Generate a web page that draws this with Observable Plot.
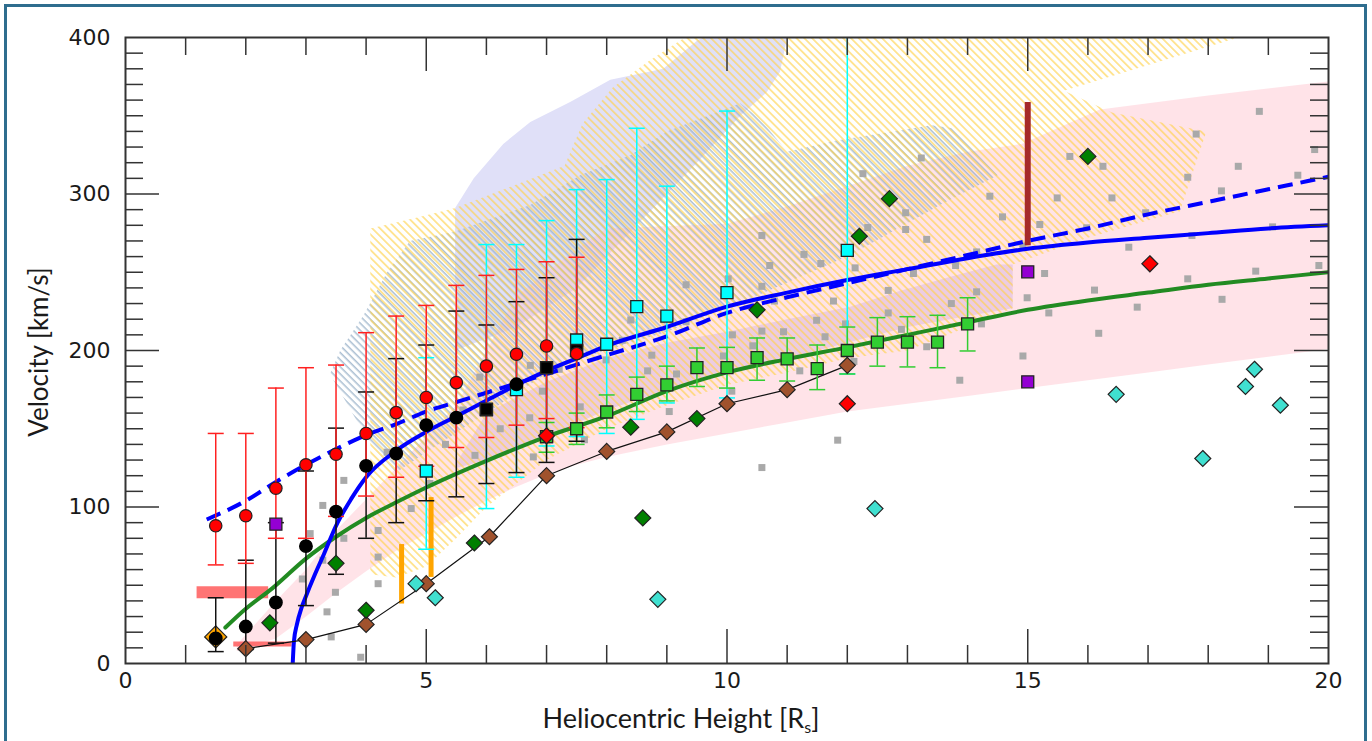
<!DOCTYPE html>
<html><head><meta charset="utf-8">
<script src="https://cdn.jsdelivr.net/npm/d3@7"></script>
<script src="https://cdn.jsdelivr.net/npm/@observablehq/plot@0.6"></script>
<style>
html,body{margin:0;padding:0;background:#fff;width:1372px;height:741px;overflow:hidden;}
#wrap{position:relative;width:1372px;height:741px;}
#border{position:absolute;left:4px;top:4px;width:1357px;height:800px;border:3px solid #2e6d8e;}
#chart{position:absolute;left:0;top:0;}
.title{position:absolute;font-family:Lato,"Open Sans",sans-serif;color:#1a1a1a;text-align:center;white-space:nowrap;}
#xtitle{left:481px;width:400px;top:703px;line-height:30px;font-size:27px;}
#ytitle{left:-112px;top:337px;width:300px;line-height:30px;font-size:26px;transform:rotate(-90deg);}
sub{font-size:16px;vertical-align:-5px;line-height:0;}
</style></head><body>
<svg width="0" height="0" style="position:absolute">
<defs>
<pattern id="hatchGold" patternUnits="userSpaceOnUse" width="5.5" height="5.5" patternTransform="rotate(-45)"><line x1="2.75" y1="0" x2="2.75" y2="5.5" stroke="#ffd24a" stroke-opacity="0.8" stroke-width="1.4"/></pattern>
<pattern id="hatchBlue" patternUnits="userSpaceOnUse" width="5" height="5" patternTransform="rotate(-45)"><line x1="1.2" y1="0" x2="1.2" y2="5" stroke="#93adc6" stroke-opacity="0.85" stroke-width="1.4"/></pattern>
</defs></svg>
<div id="wrap"><div id="border"></div><div id="chart"></div>
<div id="xtitle" class="title">Heliocentric Height [R<sub>s</sub>]</div>
<div id="ytitle" class="title">Velocity [km/s]</div></div>
<script>
// ---------------- data ----------------
const xTickLabels = [0, 5, 10, 15, 20];
const yTickLabels = [0, 100, 200, 300, 400];

const redX  = [1.5, 2, 2.5, 3, 3.5, 4, 4.5, 5, 5.5, 6, 6.5, 7, 7.5];
const redV  = [88, 94.4, 112, 127, 133.7, 147, 160.3, 170, 179.5, 190, 197.6, 202.9, 198];
const redLo = [63, 64, 80, 80, 94, 107, 119, 126, 138, 144.4, 152.3, 156.5, 150.7];
const redHi = [147, 147, 176, 189, 190.7, 211.4, 222, 228.8, 241.6, 248, 251.8, 256.7, 259.6];

const blackX  = [1.5, 2, 2.5, 3, 3.5, 4, 4.5, 5, 5.5, 6, 6.5, 7, 7.5];
const blackV  = [16, 23.6, 39, 75, 97, 126.3, 134.2, 152.3, 157.1, 162.5, 178.4, 189, 200];
const blackLo = [7.6, 9, 13, 37, 57, 80, 90, 104, 106.5, 115, 122, 128.5, 142];
const blackHi = [42, 66, 90, 123, 150.4, 173.5, 194.8, 203.5, 225.2, 216.3, 231.2, 246.5, 271];
const blackShape = ["circle","circle","circle","circle","circle","circle","circle","circle","circle","square","circle","square","square"];

const cyanX  = [5, 6, 6.5, 7, 7.5, 8, 8.5, 9, 10, 12];
const cyanV  = [123, 162, 175, 145, 206.7, 204, 228, 222, 237, 264];
const cyanLo = [73, 99, 119, 139, 145, 147, 156, 166.5, 169.7, 185];
const cyanHi = [195.4, 267.7, 267.7, 283, 302.8, 309.2, 342, 305, 353, 400];

const limeX  = [7, 7.5, 8, 8.5, 9, 9.5, 10, 10.5, 11, 11.5, 12, 12.5, 13, 13.5, 14];
const limeV  = [145, 150, 160.7, 172, 178, 189, 189, 195.4, 194.6, 188.4, 200, 205.4, 205.4, 205.4, 217];
const limeLo = [135, 140, 150.6, 161, 167.8, 177, 176, 181, 180.5, 175, 185, 190, 189.5, 189, 199.7];
const limeHi = [154, 160, 171.6, 183, 190, 201.6, 202, 208, 208, 203.5, 215, 221, 221.6, 222.5, 233.7];

const brownX = [2, 3, 4, 5, 6.05, 7, 8, 9, 10, 11, 12];
const brownV = [9.5, 15.3, 25, 51, 81, 120, 135.5, 148, 166, 175, 190.5];

const dgreenX = [2.4, 3.5, 4, 5.8, 8.4, 8.6, 9.5, 10.5, 12.2, 12.7, 16];
const dgreenV = [26, 64, 34, 77, 151, 93, 156.5, 226, 273, 297, 324];

const turqX = [4.83, 5.15, 8.85, 12.46, 16.47, 17.91, 18.62, 18.77, 19.2];
const turqV = [51, 42, 41, 99, 172, 131, 177, 188, 165];

const redDiaX = [7, 12, 17.03];
const redDiaV = [145.5, 166, 255.4];

const purpleX = [2.5, 15, 15];
const purpleV = [89, 250.3, 180];

const orangeDiaX = [1.5];
const orangeDiaV = [17];

const orangeBarX  = [4.59, 5.08];
const orangeBarLo = [38, 55];
const orangeBarHi = [76, 106];

const brownBarX  = [15];
const brownBarLo = [267];
const brownBarHi = [358.5];

const salmonX1 = [1.19, 1.8];
const salmonX2 = [2.38, 2.77];
const salmonV  = [45.5, 12.5];
const salmonW  = [12, 5];

const grayX = [4.35,3.63,3.28,3.07,3.63,3.28,2.94,3.49,3.35,3.42,3.91,4.2,4.2,4.2,4.75,5.32,5.06,
  5.61,5.81,5.89,6.23,6.72,6.78,6.73,6.93,7.21,7.56,7.63,7.99,8.26,8.4,8.68,8.75,9.04,9.16,
  12.26,10.58,11.28,10.71,11.56,10.02,10.58,9.32,12.34,12.13,12.68,11.77,12.68,10.79,11.49,11.97,10.09,10.58,10.94,11.63,9.94,10.43,11.21,12.11,10.08,11.84,10.58,
  13.23,15.7,16.25,14.37,15.49,16.4,12.97,14.58,12.97,15.2,13.32,15.98,16.96,14.92,13.8,14.15,15.28,16.68,13.1,16.11,14.99,14.15,13.73,16.82,15.35,14.23,12.9,16.18,13.32,14.92,13.87,
  18.85,17.8,19.77,18.5,19.49,17.66,18.22,19.07,17.73,19.84,18.79,17.66,18.23,9.32];
const grayV = [135,117,101,83,80,66,54,45.5,33,17,4,85,68,51,99,140,115,
  162,133,183,150,157,132,190.5,174,188,164,143,194,206.5,219.5,187,197,161,185,
  313,273.5,261.4,254.3,255.6,245.8,241,242,278.6,252.8,238.4,231.6,224,231.6,219.3,217,210,212.4,212,208.8,196.5,203,187,193,174,142.7,125.2,
  323,324,317.7,298.6,297.5,297.5,288,285.4,277.3,280.5,271,278.4,288,266.7,254.3,263,249.2,266,249.2,238.6,233.7,237.5,230,227.7,224,217,213.5,211,202.4,196.5,181,
  352.8,338.3,328.4,317.7,312,310.7,302,279,273.5,254.3,250.7,245.8,232.7,218.4];

const blueSolidX = [2.78,2.8,2.85,2.93,3,3.15,3.3,3.5,3.75,4,4.5,5,5.5,6,6.5,7,7.5,8,9,10,11,12,13,14,15,16,17,18,19,20];
const blueSolidV = [0,14,25,36,43,57,70,88,105,119,136,148,158,168,178,187,195,203,215,228,237,245,252,259,265,269,272,275,278,280];

const blueDashX = [1.35,2,2.5,3,3.5,4,4.5,5,5.5,6,7,8,9,10,11,12,13,14,15,16,17,18,19,20];
const blueDashV = [92,104,116,127,137,146,153,161,167,173,185,197,209,224,234,243,252,261,270,278,287,295,303,311];

const greenX = [1.66,2,2.44,3,3.5,4,4.5,5,6,7,8,9,10,11,12,13,14,15,16,17,18,19,20];
const greenV = [23,35,48,67,81,93,103,112.5,129.5,145,158,174,186,194.5,202,210,218,226,232,237,242,246,250];

// shaded regions (outline vertices)
const pinkUpX = [1.85,2.5,3,3.5,4,4.5,5,5.5,6,6.5,7.5,8,10,11,12,13,14,14.9,16.2,18,20];
const pinkUpV = [12,40,60,85,105,125,145,165,200,235,265,278,281,292,305,318,327,332,354,363,372];
const pinkLoX = [1.85,2.5,3,3.5,4,4.5,5,5.5,6,6.5,7,7.5,8,9,10,11,12,13,14,15,16,17,18,19,20];
const pinkLoV = [8,16,30,45,59,72,83,94,104,113,121,127,132,140,147,154,161,166,171,176,181,186,191,196,201];

const lavTopX = [5.48,5.79,6.28,6.73,7.4,8.06,8.94,9.5,9.6,11.0,10.88,10.66,10.22,9.5,8.5,7.5,6.5,5.48];
const lavTopV = [291,310,332,346,359,373,380,398,400,400,378,365,350,320,280,240,215,200];

const lavMidX = [5.5,6,7,8,9,10,11,12.05,12.87,13.7,14.48,14.75,14.75,14,13,12,11,10,9,8,7,6,5.5];
const lavMidV = [128,160,180,195,205,212,220,228,238,247,255,255,227,222,215,205,195,188,175,162,145,130,125];

const blueHatchX = [3.4,3.57,3.95,4.35,4.73,5.48,6.73,7.56,8.4,9,10.22,10.55,11,11.8,13.4,13.75,14.5,13.54,12.05,10.5,9,7.23,6,5,4.5,4.07];
const blueHatchV = [185,200,222,250,270,276,293,312,325,340,358,348,327,334,344,342,312,293,261,235,212,191,160,135,122,140];

const goldHatchX = [4.07,4.07,4.85,5.48,6.5,7.3,7.6,8.1,8.7,9.3,18.5,16.8,15.6,16.4,17.97,17.53,16,14.75,14.75,14,13,12,11,10,9,8,7,6,5.5,5,4.5];
const goldHatchV = [57,278,285,291,306,318,345,368,385,400,400,380,366,352,340,289,272,255,227,215,200,195,186,178,165,150,130,100,80,62,55];

// ---------------- helpers ----------------
const pts = (xs, vs, extra = {}) => xs.map((x, i) => ({x, v: vs[i], ...Object.fromEntries(Object.entries(extra).map(([k, a]) => [k, a[i]]))}));
const polygon = (ux, uv, lx, lv) => [...pts(ux, uv), ...pts(lx, lv).reverse()];

const W = 1372, H = 741, mL = 125, mR = 44, mT = 37, mB = 78;
const dxPerPx = 20 / (W - mL - mR), dyPerPx = 400 / (H - mT - mB);

const cap = {draw(ctx, size) { const w = Math.sqrt(size); ctx.moveTo(-w / 2, 0); ctx.lineTo(w / 2, 0); }};
const capR = Math.sqrt(16 * 16 / Math.PI);

function errorMarks(data, color) {
  return [
    Plot.ruleX(data, {x: "x", y1: "lo", y2: "hi", stroke: color, strokeWidth: 1.5, clip: true}),
    Plot.dot(data, {x: "x", y: "lo", symbol: cap, r: capR, stroke: color, fill: "none", strokeWidth: 1.5}),
    Plot.dot(data.filter(d => d.hi < 400), {x: "x", y: "hi", symbol: cap, r: capR, stroke: color, fill: "none", strokeWidth: 1.5})
  ];
}

const redData = pts(redX, redV, {lo: redLo, hi: redHi});
const blackData = pts(blackX, blackV, {lo: blackLo, hi: blackHi, shape: blackShape});
const cyanData = pts(cyanX, cyanV, {lo: cyanLo, hi: cyanHi});
const limeData = pts(limeX, limeV, {lo: limeLo, hi: limeHi});

const rSquare = Math.sqrt(144 / Math.PI);        // 12px square
const rDiamond = Math.sqrt((8 / 0.62625) ** 2 / Math.PI); // 16px diagonal
const rBigDiamond = Math.sqrt((11 / 0.62625) ** 2 / Math.PI);
const rGray = Math.sqrt(49 / Math.PI);

// ticks
const xMinor = d3.range(1, 20).filter(d => d % 5 !== 0);
const xMajor = [5, 10, 15];
const yMinor = d3.range(10, 400, 10).filter(d => d % 100 !== 0);
const yMajor = [100, 200, 300];
const minorLen = 18, majorLen = 34;
const tickColor = "#333";

function tickMarks() {
  const m = [];
  for (const [arr, len] of [[xMinor, minorLen], [xMajor, majorLen]]) {
    m.push(Plot.ruleX(arr, {x: d => d, y1: 0, y2: len * dyPerPx, stroke: tickColor, strokeWidth: 1.5}));
    m.push(Plot.ruleX(arr, {x: d => d, y1: 400 - len * dyPerPx, y2: 400, stroke: tickColor, strokeWidth: 1.5}));
  }
  for (const [arr, len] of [[yMinor, minorLen], [yMajor, majorLen]]) {
    m.push(Plot.ruleY(arr, {y: d => d, x1: 0, x2: len * dxPerPx, stroke: tickColor, strokeWidth: 1.5}));
    m.push(Plot.ruleY(arr, {y: d => d, x1: 20 - len * dxPerPx, x2: 20, stroke: tickColor, strokeWidth: 1.5}));
  }
  return m;
}

const chart = Plot.plot({
  width: W, height: H,
  marginLeft: mL, marginRight: mR, marginTop: mT, marginBottom: mB,
  x: {domain: [0, 20]},
  y: {domain: [0, 400]},
  style: {fontFamily: "DejaVu Sans", fontSize: "22px", background: "transparent", color: "#1a1a1a"},
  marks: [
    // shaded regions
    Plot.line(pts(lavTopX, lavTopV), {x: "x", y: "v", fill: "#e0e0f8", stroke: "none", clip: true}),
    Plot.line(pts(lavMidX, lavMidV), {x: "x", y: "v", fill: "#dcd6f4", stroke: "none", clip: true}),
    Plot.line(polygon(pinkUpX, pinkUpV, pinkLoX, pinkLoV), {x: "x", y: "v", fill: "#ffc0cb", fillOpacity: 0.45, stroke: "none", clip: true}),
    Plot.line(pts(blueHatchX, blueHatchV), {x: "x", y: "v", fill: "url(#hatchBlue)", stroke: "none", clip: true}),
    Plot.line(pts(goldHatchX, goldHatchV), {x: "x", y: "v", fill: "url(#hatchGold)", stroke: "none", clip: true}),
    // gray points
    Plot.dot(pts(grayX, grayV), {x: "x", y: "v", symbol: "square", r: rGray, fill: "#a9a9a9", stroke: "none"}),
    // bars
    Plot.ruleY(pts(salmonX1, salmonV, {x2: salmonX2, w: salmonW}), {y: "v", x1: "x", x2: "x2", stroke: "#ff5c5c", strokeOpacity: 0.85, strokeWidth: d => d.w}),
    Plot.ruleX(pts(orangeBarX, orangeBarLo, {hi: orangeBarHi}), {x: "x", y1: "v", y2: "hi", stroke: "#ffa500", strokeWidth: 5}),
    Plot.ruleX(pts(brownBarX, brownBarLo, {hi: brownBarHi}), {x: "x", y1: "v", y2: "hi", stroke: "#a52a2a", strokeWidth: 6}),
    // model curves
    Plot.line(pts(greenX, greenV), {x: "x", y: "v", stroke: "#228b22", strokeWidth: 4, curve: "monotone-x", clip: true}),
    Plot.line(pts(blueDashX, blueDashV), {x: "x", y: "v", stroke: "#0000ff", strokeWidth: 4, strokeDasharray: "15,8", strokeLinecap: "butt", curve: "monotone-x", clip: true}),
    Plot.line(pts(blueSolidX, blueSolidV), {x: "x", y: "v", stroke: "#0000ff", strokeWidth: 4, curve: "monotone-x", clip: true}),
    Plot.line(pts(brownX, brownV), {x: "x", y: "v", stroke: "#111", strokeWidth: 1.2}),
    // error bars
    ...errorMarks(cyanData, "#00ffff"),
    ...errorMarks(limeData, "#32cd32"),
    Plot.dot(pts(orangeDiaX, orangeDiaV), {x: "x", y: "v", symbol: "diamond2", r: rBigDiamond, fill: "#ffa500", stroke: "#222", strokeWidth: 1.3}),
    ...errorMarks(blackData, "#111"),
    ...errorMarks(redData, "#ff2020"),
    // markers
    Plot.dot(cyanData, {x: "x", y: "v", symbol: "square", r: rSquare, fill: "#00ffff", stroke: "#222", strokeWidth: 1.3}),
    Plot.dot(limeData, {x: "x", y: "v", symbol: "square", r: rSquare, fill: "#32cd32", stroke: "#222", strokeWidth: 1.3}),
    Plot.dot(pts(brownX, brownV), {x: "x", y: "v", symbol: "diamond2", r: rDiamond, fill: "#a0522d", stroke: "#222", strokeWidth: 1.2}),
    Plot.dot(pts(dgreenX, dgreenV), {x: "x", y: "v", symbol: "diamond2", r: rDiamond, fill: "#008000", stroke: "#222", strokeWidth: 1.2}),
    Plot.dot(pts(turqX, turqV), {x: "x", y: "v", symbol: "diamond2", r: rDiamond, fill: "#40e0d0", stroke: "#222", strokeWidth: 1.2}),
    Plot.dot(blackData.filter(d => d.shape === "circle"), {x: "x", y: "v", r: 6.2, fill: "#000", stroke: "#000"}),
    Plot.dot(blackData.filter(d => d.shape === "square"), {x: "x", y: "v", symbol: "square", r: rSquare, fill: "#000", stroke: "#222"}),
    Plot.dot(redData, {x: "x", y: "v", r: 6.2, fill: "#ff0000", stroke: "#222", strokeWidth: 1.2}),
    Plot.dot(pts(redDiaX, redDiaV), {x: "x", y: "v", symbol: "diamond2", r: rDiamond, fill: "#ff0000", stroke: "#222", strokeWidth: 1.2}),
    Plot.dot(pts(purpleX, purpleV), {x: "x", y: "v", symbol: "square", r: rSquare, fill: "#9400d3", stroke: "#222", strokeWidth: 1.3}),
    // axes
    ...tickMarks(),
    Plot.frame({stroke: "#333", strokeWidth: 2}),
    Plot.axisX({ticks: xTickLabels, tickSize: 0, tickPadding: 9, label: null}),
    Plot.axisY({ticks: yTickLabels, tickSize: 0, tickPadding: 15, label: null})
  ]
});
document.getElementById("chart").appendChild(chart);
</script>
</body></html>
